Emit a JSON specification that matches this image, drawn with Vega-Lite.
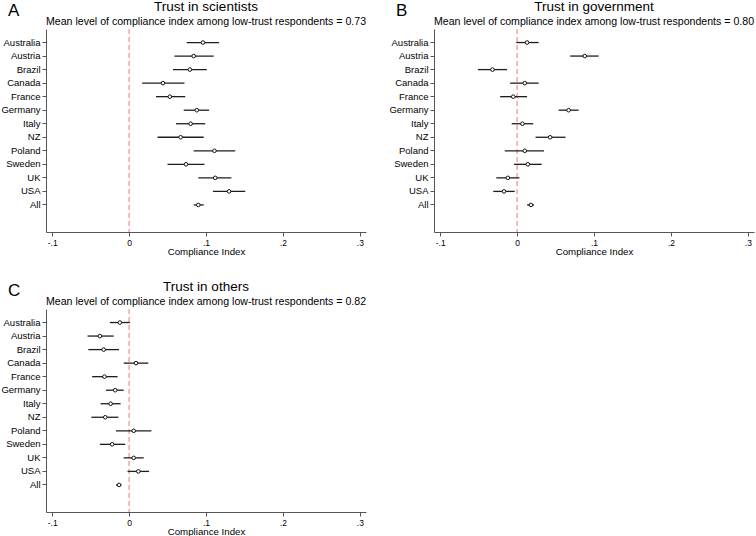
{
  "$schema": "https://vega.github.io/schema/vega-lite/v6.json",
  "padding": 0,
  "background": "white",
  "config": {
    "font": "Liberation Sans",
    "view": {"stroke": null},
    "axis": {"grid": false, "domainColor": "#555", "tickColor": "#555", "labelColor": "#000", "titleColor": "#000", "titleFontWeight": "normal", "labelFont": "Liberation Sans", "titleFont": "Liberation Sans"},
    "title": {"font": "Liberation Sans", "fontWeight": "normal", "color": "#000", "subtitleColor": "#000", "subtitleFont": "Liberation Sans"}
  },
  "datasets": {
    "d": [
      {"panel": "A", "country": "Australia", "est": 0.096, "lo": 0.075, "hi": 0.117},
      {"panel": "A", "country": "Austria", "est": 0.084, "lo": 0.059, "hi": 0.110},
      {"panel": "A", "country": "Brazil", "est": 0.079, "lo": 0.057, "hi": 0.101},
      {"panel": "A", "country": "Canada", "est": 0.044, "lo": 0.017, "hi": 0.072},
      {"panel": "A", "country": "France", "est": 0.053, "lo": 0.035, "hi": 0.073},
      {"panel": "A", "country": "Germany", "est": 0.088, "lo": 0.071, "hi": 0.104},
      {"panel": "A", "country": "Italy", "est": 0.080, "lo": 0.061, "hi": 0.099},
      {"panel": "A", "country": "NZ", "est": 0.067, "lo": 0.037, "hi": 0.097},
      {"panel": "A", "country": "Poland", "est": 0.111, "lo": 0.084, "hi": 0.138},
      {"panel": "A", "country": "Sweden", "est": 0.074, "lo": 0.050, "hi": 0.098},
      {"panel": "A", "country": "UK", "est": 0.112, "lo": 0.090, "hi": 0.133},
      {"panel": "A", "country": "USA", "est": 0.130, "lo": 0.109, "hi": 0.151},
      {"panel": "A", "country": "All", "est": 0.090, "lo": 0.084, "hi": 0.097},
      {"panel": "B", "country": "Australia", "est": 0.013, "lo": -0.001, "hi": 0.028},
      {"panel": "B", "country": "Austria", "est": 0.088, "lo": 0.069, "hi": 0.106},
      {"panel": "B", "country": "Brazil", "est": -0.032, "lo": -0.051, "hi": -0.013},
      {"panel": "B", "country": "Canada", "est": 0.010, "lo": -0.009, "hi": 0.028},
      {"panel": "B", "country": "France", "est": -0.005, "lo": -0.022, "hi": 0.013},
      {"panel": "B", "country": "Germany", "est": 0.067, "lo": 0.054, "hi": 0.080},
      {"panel": "B", "country": "Italy", "est": 0.007, "lo": -0.007, "hi": 0.021},
      {"panel": "B", "country": "NZ", "est": 0.043, "lo": 0.024, "hi": 0.063},
      {"panel": "B", "country": "Poland", "est": 0.010, "lo": -0.016, "hi": 0.035},
      {"panel": "B", "country": "Sweden", "est": 0.014, "lo": -0.004, "hi": 0.032},
      {"panel": "B", "country": "UK", "est": -0.012, "lo": -0.027, "hi": 0.003},
      {"panel": "B", "country": "USA", "est": -0.017, "lo": -0.031, "hi": -0.003},
      {"panel": "B", "country": "All", "est": 0.018, "lo": 0.013, "hi": 0.022},
      {"panel": "C", "country": "Australia", "est": -0.012, "lo": -0.025, "hi": 0.001},
      {"panel": "C", "country": "Austria", "est": -0.038, "lo": -0.054, "hi": -0.020},
      {"panel": "C", "country": "Brazil", "est": -0.033, "lo": -0.053, "hi": -0.013},
      {"panel": "C", "country": "Canada", "est": 0.009, "lo": -0.007, "hi": 0.025},
      {"panel": "C", "country": "France", "est": -0.032, "lo": -0.048, "hi": -0.015},
      {"panel": "C", "country": "Germany", "est": -0.018, "lo": -0.030, "hi": -0.007},
      {"panel": "C", "country": "Italy", "est": -0.024, "lo": -0.037, "hi": -0.011},
      {"panel": "C", "country": "NZ", "est": -0.031, "lo": -0.049, "hi": -0.014},
      {"panel": "C", "country": "Poland", "est": 0.006, "lo": -0.017, "hi": 0.029},
      {"panel": "C", "country": "Sweden", "est": -0.022, "lo": -0.038, "hi": -0.005},
      {"panel": "C", "country": "UK", "est": 0.006, "lo": -0.007, "hi": 0.019},
      {"panel": "C", "country": "USA", "est": 0.012, "lo": -0.002, "hi": 0.026},
      {"panel": "C", "country": "All", "est": -0.013, "lo": -0.017, "hi": -0.010}
    ],
    "zero": [{"ref": 0}]
  },
  "columns": 2,
  "spacing": {"row": 23, "column": 21},
  "concat": [
    {
      "title": {"text": "A", "anchor": "start", "fontSize": 17, "offset": -20, "dx": 7},
      "vconcat": [
        {
          "width": 320,
          "height": 203,
          "title": {"text": "Trust in scientists", "subtitle": "Mean level of compliance index among low-trust respondents = 0.73", "anchor": "middle", "fontSize": 13.5, "subtitleFontSize": 10.6, "subtitlePadding": 3, "offset": -1, "dy": -2},
          "layer": [
            {
              "data": {"name": "zero"},
              "mark": {"type": "rule", "color": "#f07575", "strokeDash": [5, 3], "strokeWidth": 1},
              "encoding": {"x": {"field": "ref", "type": "quantitative", "scale": {"domain": [-0.108, 0.308], "nice": false, "zero": false}}}
            },
            {
              "data": {"name": "d"},
              "transform": [{"filter": "datum.panel == 'A'"}],
              "mark": {"type": "rule", "color": "#1e1e1e", "strokeWidth": 1.3},
              "encoding": {
                "y": {"field": "country", "type": "nominal", "sort": null, "scale": {"type": "band", "domain": ["Australia", "Austria", "Brazil", "Canada", "France", "Germany", "Italy", "NZ", "Poland", "Sweden", "UK", "USA", "All"], "paddingInner": 0, "paddingOuter": 1, "align": 0.25}, "axis": {"title": null, "tickSize": 4, "labelPadding": 2, "labelFontSize": 9.5, "bandPosition": 0.5}},
                "x": {"field": "lo", "type": "quantitative", "scale": {"domain": [-0.108, 0.308], "nice": false, "zero": false}, "axis": {"values": [-0.1, 0, 0.1, 0.2, 0.3], "labelExpr": "datum.value == 0 ? '0' : (datum.value < 0 ? '-.' : '.') + round(abs(datum.value) * 10)", "labelFlush": false, "title": "Compliance Index", "tickSize": 4, "labelPadding": 2, "labelFontSize": 8.5, "titleFontSize": 9.7, "titlePadding": 0}},
                "x2": {"field": "hi"}
              }
            },
            {
              "data": {"name": "d"},
              "transform": [{"filter": "datum.panel == 'A'"}],
              "mark": {"type": "point", "shape": "circle", "filled": false, "fill": "white", "fillOpacity": 1, "stroke": "#111", "strokeWidth": 1, "size": 13, "opacity": 1},
              "encoding": {
                "y": {"field": "country", "type": "nominal", "sort": null},
                "x": {"field": "est", "type": "quantitative"}
              }
            }
          ]
        }
      ]
    },
    {
      "title": {"text": "B", "anchor": "start", "fontSize": 17, "offset": -20, "dx": 7},
      "vconcat": [
        {
          "width": 320,
          "height": 203,
          "title": {"text": "Trust in government", "subtitle": "Mean level of compliance index among low-trust respondents = 0.80", "anchor": "middle", "fontSize": 13.5, "subtitleFontSize": 10.6, "subtitlePadding": 3, "offset": -1, "dy": -2},
          "layer": [
            {
              "data": {"name": "zero"},
              "mark": {"type": "rule", "color": "#f07575", "strokeDash": [5, 3], "strokeWidth": 1},
              "encoding": {"x": {"field": "ref", "type": "quantitative", "scale": {"domain": [-0.108, 0.308], "nice": false, "zero": false}}}
            },
            {
              "data": {"name": "d"},
              "transform": [{"filter": "datum.panel == 'B'"}],
              "mark": {"type": "rule", "color": "#1e1e1e", "strokeWidth": 1.3},
              "encoding": {
                "y": {"field": "country", "type": "nominal", "sort": null, "scale": {"type": "band", "domain": ["Australia", "Austria", "Brazil", "Canada", "France", "Germany", "Italy", "NZ", "Poland", "Sweden", "UK", "USA", "All"], "paddingInner": 0, "paddingOuter": 1, "align": 0.25}, "axis": {"title": null, "tickSize": 4, "labelPadding": 2, "labelFontSize": 9.5, "bandPosition": 0.5}},
                "x": {"field": "lo", "type": "quantitative", "scale": {"domain": [-0.108, 0.308], "nice": false, "zero": false}, "axis": {"values": [-0.1, 0, 0.1, 0.2, 0.3], "labelExpr": "datum.value == 0 ? '0' : (datum.value < 0 ? '-.' : '.') + round(abs(datum.value) * 10)", "labelFlush": false, "title": "Compliance Index", "tickSize": 4, "labelPadding": 2, "labelFontSize": 8.5, "titleFontSize": 9.7, "titlePadding": 0}},
                "x2": {"field": "hi"}
              }
            },
            {
              "data": {"name": "d"},
              "transform": [{"filter": "datum.panel == 'B'"}],
              "mark": {"type": "point", "shape": "circle", "filled": false, "fill": "white", "fillOpacity": 1, "stroke": "#111", "strokeWidth": 1, "size": 13, "opacity": 1},
              "encoding": {
                "y": {"field": "country", "type": "nominal", "sort": null},
                "x": {"field": "est", "type": "quantitative"}
              }
            }
          ]
        }
      ]
    },
    {
      "title": {"text": "C", "anchor": "start", "fontSize": 17, "offset": -20, "dx": 7},
      "vconcat": [
        {
          "width": 320,
          "height": 203,
          "title": {"text": "Trust in others", "subtitle": "Mean level of compliance index among low-trust respondents = 0.82", "anchor": "middle", "fontSize": 13.5, "subtitleFontSize": 10.6, "subtitlePadding": 3, "offset": -1, "dy": -2},
          "layer": [
            {
              "data": {"name": "zero"},
              "mark": {"type": "rule", "color": "#f07575", "strokeDash": [5, 3], "strokeWidth": 1},
              "encoding": {"x": {"field": "ref", "type": "quantitative", "scale": {"domain": [-0.108, 0.308], "nice": false, "zero": false}}}
            },
            {
              "data": {"name": "d"},
              "transform": [{"filter": "datum.panel == 'C'"}],
              "mark": {"type": "rule", "color": "#1e1e1e", "strokeWidth": 1.3},
              "encoding": {
                "y": {"field": "country", "type": "nominal", "sort": null, "scale": {"type": "band", "domain": ["Australia", "Austria", "Brazil", "Canada", "France", "Germany", "Italy", "NZ", "Poland", "Sweden", "UK", "USA", "All"], "paddingInner": 0, "paddingOuter": 1, "align": 0.25}, "axis": {"title": null, "tickSize": 4, "labelPadding": 2, "labelFontSize": 9.5, "bandPosition": 0.5}},
                "x": {"field": "lo", "type": "quantitative", "scale": {"domain": [-0.108, 0.308], "nice": false, "zero": false}, "axis": {"values": [-0.1, 0, 0.1, 0.2, 0.3], "labelExpr": "datum.value == 0 ? '0' : (datum.value < 0 ? '-.' : '.') + round(abs(datum.value) * 10)", "labelFlush": false, "title": "Compliance Index", "tickSize": 4, "labelPadding": 2, "labelFontSize": 8.5, "titleFontSize": 9.7, "titlePadding": 0}},
                "x2": {"field": "hi"}
              }
            },
            {
              "data": {"name": "d"},
              "transform": [{"filter": "datum.panel == 'C'"}],
              "mark": {"type": "point", "shape": "circle", "filled": false, "fill": "white", "fillOpacity": 1, "stroke": "#111", "strokeWidth": 1, "size": 13, "opacity": 1},
              "encoding": {
                "y": {"field": "country", "type": "nominal", "sort": null},
                "x": {"field": "est", "type": "quantitative"}
              }
            }
          ]
        }
      ]
    }
  ]
}
